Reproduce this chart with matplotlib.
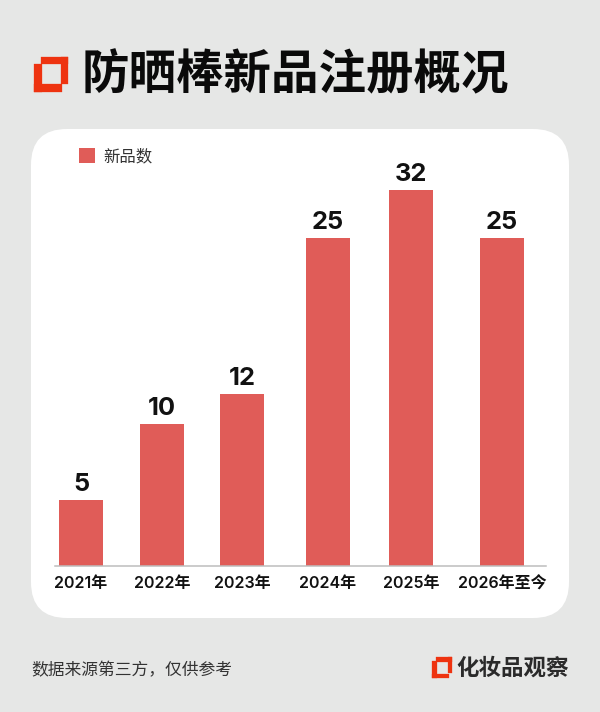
import numpy as np
import matplotlib
matplotlib.use("Agg")
import matplotlib.pyplot as plt
from matplotlib.patches import FancyBboxPatch, Rectangle

plt.rcParams['font.family'] = ['Inter', 'Noto Sans CJK SC', 'DejaVu Sans']

years = ["2021年", "2022年", "2023年", "2024年", "2025年", "2026年至今"]
counts = [5, 10, 12, 25, 32, 25]
series_name = "新品数"
title = "防晒棒新品注册概况"
source_note = "数据来源第三方，仅供参考"
brand = "化妆品观察"

# the bars in the picture are not to a linear scale and not evenly spaced
scale_vals = [0, 5, 10, 12, 25, 32, 40]
scale_pos = [0, 66, 142, 172, 328, 376, 437]
slots = [81, 162, 242, 328, 411, 502]

BG = "#e6e7e6"
BAR = "#e05c58"
RED = "#ee3310"
W, H = 600, 712

fig = plt.figure(figsize=(W / 100, H / 100), dpi=100, facecolor=BG)

# page layer in pixel coordinates
page = fig.add_axes([0, 0, 1, 1], zorder=0)
page.set_xlim(0, W)
page.set_ylim(H, 0)
page.axis('off')

r = 36
page.add_patch(FancyBboxPatch((31 + r, 129 + r), 538 - 2 * r, 489 - 2 * r,
                              boxstyle="round,pad=%d,rounding_size=%d" % (r, r),
                              fc="white", ec="none"))


def logo(x, y, s):
    # two overlapping L shapes, offset from each other
    for rx, ry, rw, rh in [(0, 7, 7.5, 28), (0, 27.5, 28, 7.5),
                           (7, 0, 27, 7.5), (26.5, 0, 7.5, 27)]:
        page.add_patch(Rectangle((x + rx * s, y + ry * s), rw * s, rh * s, fc=RED, ec=RED, lw=0.2))


logo(34, 56.5, 1)
logo(432, 657, 0.6)

page.text(82, 75.5, title, fontsize=34.2, fontweight='black', color="#0a0a0a",
          family=['Noto Sans CJK SC'], va='center', ha='left')
page.text(31, 671, source_note, fontsize=12.1, color="#333333",
          family=['Noto Sans CJK SC'], va='center', ha='left')
page.text(456, 668, brand, fontsize=16.2, fontweight='bold', color="#2a2a2a",
          family=['Noto Sans CJK SC'], va='center', ha='left')

# chart layer
ax = fig.add_axes([55 / W, (H - 566) / H, 491 / W, 437 / H], zorder=1)
ax.patch.set_alpha(0)
ax.set_xlim(55, 546)
ax.set_yscale('function', functions=(lambda v: np.interp(v, scale_vals, scale_pos),
                                     lambda p: np.interp(p, scale_pos, scale_vals)))
ax.set_ylim(0, 40)

bars = ax.bar(slots, counts, width=44, color=BAR, label=series_name)
ax.bar_label(bars, labels=[str(c) for c in counts], padding=3.2, fontsize=18.3,
             fontweight='bold', color="#111111")

for s in ['top', 'left', 'right']:
    ax.spines[s].set_visible(False)
ax.spines['bottom'].set_color("#bdbdbd")
ax.spines['bottom'].set_linewidth(1.1)
ax.set_yticks([])
ax.minorticks_off()
ax.set_xticks(slots)
ax.set_xticklabels(years, fontsize=11.5, fontweight='semibold', color="#111111")
ax.tick_params(axis='x', length=0, pad=7.5)

leg = ax.legend(loc='upper left', bbox_to_anchor=((79 - 55) / 491, (566 - 148) / 437),
                frameon=False, borderpad=0, borderaxespad=0, handlelength=0.98,
                handleheight=1.0, handletextpad=0.5,
                prop={'family': ['Noto Sans CJK SC'], 'size': 11.8})
leg.get_texts()[0].set_color("#333333")

fig.savefig("out.png", dpi=100, facecolor=BG)
